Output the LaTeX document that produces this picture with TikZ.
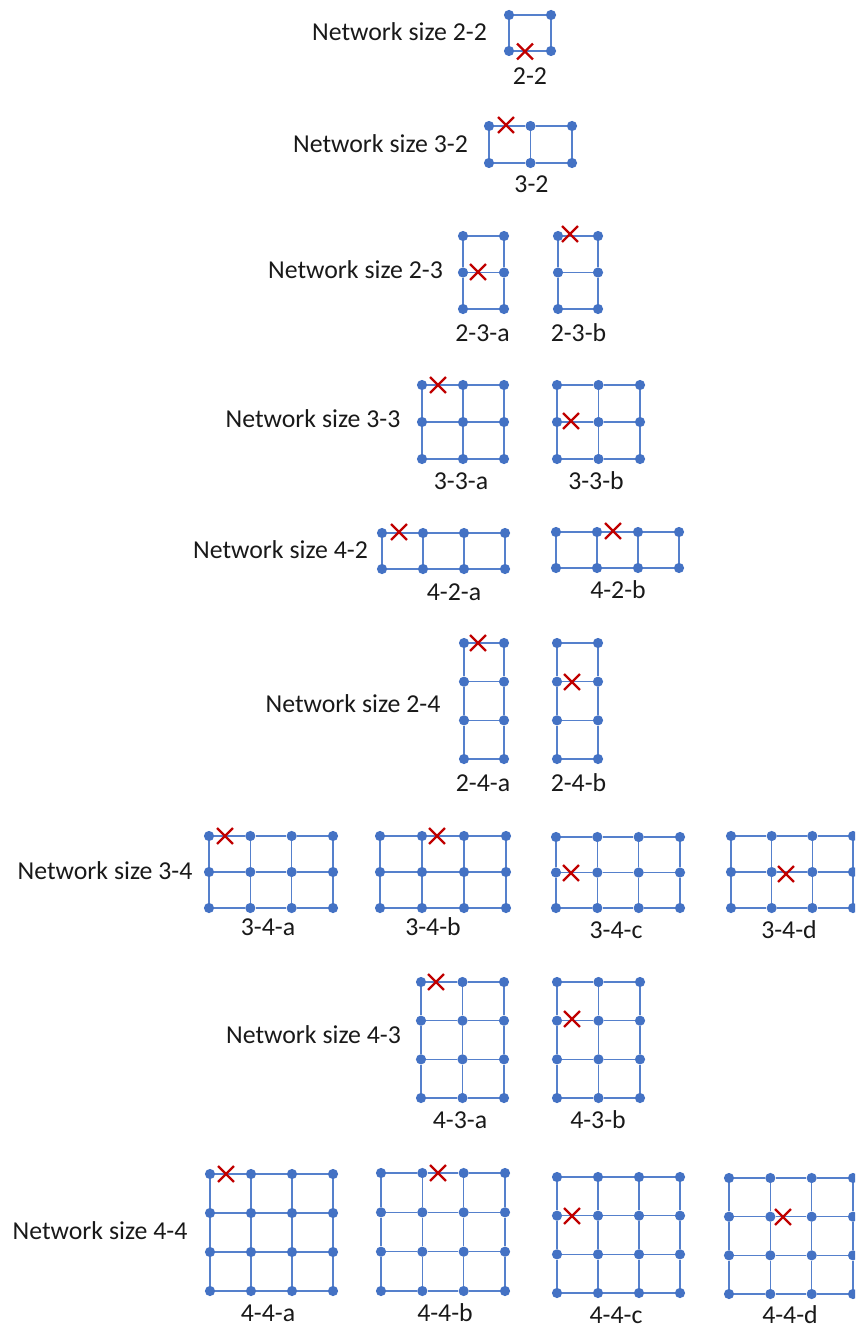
\documentclass[tikz,border=0pt]{standalone}
\usepackage{fontspec}
\setmainfont{Carlito}
\usetikzlibrary{shapes.misc}

\definecolor{meshblue}{HTML}{4472C4}
\definecolor{linkblue}{HTML}{5580CC}
\definecolor{faultred}{HTML}{C00000}

\tikzset{
  meshdot/.style={circle, fill=meshblue, draw=none, minimum size=10.2pt, inner sep=0pt},
  meshlink/.style={draw=linkblue, line width=1.6pt},
  xmark/.style={cross out, draw=faultred, line width=2.4pt, minimum size=13.5pt, inner sep=0pt},
  heading/.style={font=\fontsize{25.8}{30}\selectfont, text=black!90, anchor=base, inner sep=0pt},
  caption/.style={font=\fontsize{25.8}{30}\selectfont, text=black!90, anchor=base, inner sep=0pt},
}

% #1 name, #2 columns, #3 rows, #4 left x, #5 right x, #6 top y, #7 bottom y
\newcommand{\meshgrid}[7]{%
  \foreach \i in {1,...,#2}{%
    \foreach \j in {1,...,#3}{%
      \pgfmathsetmacro{\px}{#4+(\i-1)*(#5-#4)/(#2-1)}%
      \pgfmathsetmacro{\py}{#6+(\j-1)*(#7-#6)/(#3-1)}%
      \node[meshdot] (#1-\i-\j) at (\px,\py) {};
    }%
  }%
  \pgfmathtruncatemacro{\lastc}{#2-1}%
  \pgfmathtruncatemacro{\lastr}{#3-1}%
  \foreach \j in {1,...,#3}{%
    \foreach \i in {1,...,\lastc}{%
      \pgfmathtruncatemacro{\ni}{\i+1}%
      \draw[meshlink] (#1-\i-\j) -- (#1-\ni-\j);
    }%
  }%
  \foreach \i in {1,...,#2}{%
    \foreach \j in {1,...,\lastr}{%
      \pgfmathtruncatemacro{\nj}{\j+1}%
      \draw[meshlink] (#1-\i-\j) -- (#1-\i-\nj);
    }%
  }%
}

\begin{document}
\begin{tikzpicture}[x=1pt, y=-1pt]
\useasboundingbox (0,0) rectangle (855,1327);
\clip (0,0) rectangle (855,1327);

% ---- size 2-2
\node[heading] (h22) at (399.5,41) {Network size 2-2};
\meshgrid{g22}{2}{2}{509}{551}{15}{51}
\node[xmark] (g22-x) at (525,51.5) {};
\node[caption] (c22) at (530,85) {2-2};

% ---- size 3-2
\node[heading] (h32) at (380.5,152) {Network size 3-2};
\meshgrid{g32}{3}{2}{489}{572}{126}{163}
\node[xmark] (g32-x) at (506,125) {};
\node[caption] (c32) at (531.5,192) {3-2};

% ---- size 2-3
\node[heading] (h23) at (355.5,278) {Network size 2-3};
\meshgrid{g23a}{2}{3}{463}{504}{236}{309}
\node[xmark] (g23a-x) at (478,272) {};
\node[caption] (c23a) at (482.5,341) {2-3-a};
\meshgrid{g23b}{2}{3}{558}{598}{236}{309}
\node[xmark] (g23b-x) at (570,234) {};
\node[caption] (c23b) at (578.5,341) {2-3-b};

% ---- size 3-3
\node[heading] (h33) at (313,427) {Network size 3-3};
\meshgrid{g33a}{3}{3}{422}{504}{385}{459}
\node[xmark] (g33a-x) at (438,385) {};
\node[caption] (c33a) at (461,489) {3-3-a};
\meshgrid{g33b}{3}{3}{557}{640}{385}{459}
\node[xmark] (g33b-x) at (571,421) {};
\node[caption] (c33b) at (596,489) {3-3-b};

% ---- size 4-2
\node[heading] (h42) at (280.5,558) {Network size 4-2};
\meshgrid{g42a}{4}{2}{382}{505}{533}{569}
\node[xmark] (g42a-x) at (399,532) {};
\node[caption] (c42a) at (454,600) {4-2-a};
\meshgrid{g42b}{4}{2}{556}{679}{532}{568}
\node[xmark] (g42b-x) at (613,531) {};
\node[caption] (c42b) at (618,598) {4-2-b};

% ---- size 2-4
\node[heading] (h24) at (353,712) {Network size 2-4};
\meshgrid{g24a}{2}{4}{464}{504}{643}{759}
\node[xmark] (g24a-x) at (478,643) {};
\node[caption] (c24a) at (483,791) {2-4-a};
\meshgrid{g24b}{2}{4}{557}{598}{643}{759}
\node[xmark] (g24b-x) at (572,682) {};
\node[caption] (c24b) at (578.5,791) {2-4-b};

% ---- size 3-4
\node[heading] (h34) at (105,879) {Network size 3-4};
\meshgrid{g34a}{4}{3}{209}{333}{836}{908}
\node[xmark] (g34a-x) at (225,836) {};
\node[caption] (c34a) at (268,935) {3-4-a};
\meshgrid{g34b}{4}{3}{380}{506}{836}{908}
\node[xmark] (g34b-x) at (437,836) {};
\node[caption] (c34b) at (433,935) {3-4-b};
\meshgrid{g34c}{4}{3}{556}{680}{837}{908}
\node[xmark] (g34c-x) at (571,873) {};
\node[caption] (c34c) at (616,938) {3-4-c};
\meshgrid{g34d}{4}{3}{731}{853}{836}{908}
\node[xmark] (g34d-x) at (786,874) {};
\node[caption] (c34d) at (789,938) {3-4-d};

% ---- size 4-3
\node[heading] (h43) at (313.5,1043) {Network size 4-3};
\meshgrid{g43a}{3}{4}{421}{504}{982}{1098}
\node[xmark] (g43a-x) at (436,982) {};
\node[caption] (c43a) at (460,1128) {4-3-a};
\meshgrid{g43b}{3}{4}{557}{640}{982}{1098}
\node[xmark] (g43b-x) at (572,1019) {};
\node[caption] (c43b) at (598,1128) {4-3-b};

% ---- size 4-4
\node[heading] (h44) at (100,1239) {Network size 4-4};
\meshgrid{g44a}{4}{4}{210}{333}{1174}{1291}
\node[xmark] (g44a-x) at (226,1174) {};
\node[caption] (c44a) at (268,1321) {4-4-a};
\meshgrid{g44b}{4}{4}{381}{505}{1173}{1291}
\node[xmark] (g44b-x) at (438,1173) {};
\node[caption] (c44b) at (445,1321) {4-4-b};
\meshgrid{g44c}{4}{4}{557}{680}{1177}{1293}
\node[xmark] (g44c-x) at (572,1216) {};
\node[caption] (c44c) at (616,1323) {4-4-c};
\meshgrid{g44d}{4}{4}{729}{853}{1178}{1294}
\node[xmark] (g44d-x) at (783,1217) {};
\node[caption] (c44d) at (790,1323) {4-4-d};
\end{tikzpicture}
\end{document}
